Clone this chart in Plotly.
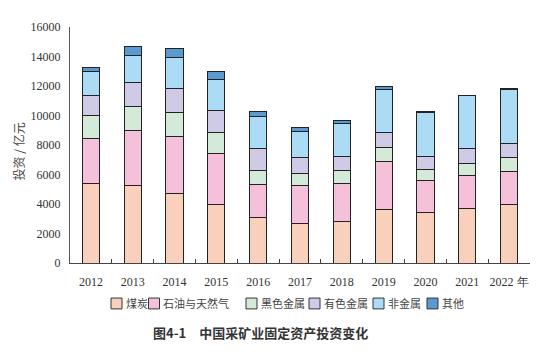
import plotly.graph_objects as go

years = ["2012", "2013", "2014", "2015", "2016", "2017", "2018", "2019", "2020", "2021", "2022"]
tick_labels = ["2012", "2013", "2014", "2015", "2016", "2017", "2018", "2019", "2020", "2021", "2022 年"]

series_names = ["煤炭", "石油与天然气", "黑色金属", "有色金属", "非金属", "其他"]
coal = [5375, 5285, 4705, 3969, 3055, 2676, 2832, 3635, 3434, 3680, 3947]
oil_gas = [3077, 3702, 3881, 3457, 2297, 2609, 2587, 3278, 2186, 2252, 2252]
ferrous = [1516, 1650, 1650, 1405, 937, 758, 847, 892, 736, 825, 982]
nonferrous = [1383, 1628, 1605, 1539, 1449, 1138, 982, 1026, 892, 1026, 936]
nonmetal = [1605, 1784, 2074, 2051, 2186, 1761, 2207, 2943, 2943, 3545, 3657]
other = [313, 602, 602, 558, 379, 268, 179, 179, 112, 45, 67]

colors = ["#F9D0BC", "#F5C0DA", "#D4EAD9", "#CFCAE5", "#ACDCF5", "#5A9AD0"]
values = [coal, oil_gas, ferrous, nonferrous, nonmetal, other]

SERIF = "'Liberation Serif', 'Times New Roman', serif"

# the page body has an 8px default margin; compensate for it
OFF = 8
W, H = 549 - OFF, 356 - OFF
L, R, T, B = 70 - OFF, 19, 24 - OFF, 93
PW, PH = W - L - R, H - T - B

def px(x):  # screen x -> paper
    return (x - OFF - L) / PW

def py(y):  # screen y -> paper
    return (H - B - (y - OFF)) / PH

fig = go.Figure()
for name, vals, col in zip(series_names, values, colors):
    fig.add_trace(go.Bar(
        x=years, y=vals, name=name,
        marker=dict(color=col, line=dict(color="#222222", width=1)),
        showlegend=False,
    ))

# custom legend (squares + text)
legend_sq_x = [111, 148.5, 246, 309, 373, 427]
shapes = []
annotations = []
for name, col, sx in zip(series_names, colors, legend_sq_x):
    shapes.append(dict(type="rect", xref="paper", yref="paper",
                       x0=px(sx), x1=px(sx + 11), y0=py(309.5), y1=py(298.5),
                       fillcolor=col, line=dict(color="#333333", width=1)))
    annotations.append(dict(xref="paper", yref="paper", x=px(sx + 12.5), y=py(304),
                            text=name, showarrow=False, xanchor="left", yanchor="middle",
                            font=dict(family="Noto Sans CJK SC", size=11, color="#444444")))

# y-axis title
annotations.append(dict(xref="paper", yref="paper", x=px(18), y=py(150),
                        text="投资 / 亿元", showarrow=False, textangle=-90,
                        xanchor="center", yanchor="middle",
                        font=dict(family="Noto Sans CJK SC", size=12, color="#444444")))
# caption
annotations.append(dict(xref="paper", yref="paper", x=px(260), y=py(333),
                        text="<b>图4-1　中国采矿业固定资产投资变化</b>", showarrow=False,
                        xanchor="center", yanchor="middle",
                        font=dict(family="Noto Sans CJK SC", size=13, color="#333333")))

fig.update_layout(
    barmode="stack",
    bargap=0.59,
    width=W, height=H,
    margin=dict(l=L, r=R, t=T, b=B),
    plot_bgcolor="white", paper_bgcolor="white",
    shapes=shapes, annotations=annotations,
    showlegend=False,
    font=dict(family=SERIF, size=11, color="#333333"),
)
fig.update_xaxes(
    tickmode="array", tickvals=years, ticktext=tick_labels, tickangle=0,
    showline=True, linecolor="#444444", linewidth=1,
    ticks="inside", tickson="boundaries", ticklen=4, tickcolor="#444444",
    showgrid=False, ticklabelstandoff=8,
    tickfont=dict(family=SERIF, size=12, color="#333333"),
)
fig.update_yaxes(
    range=[0, 16000], dtick=2000, showgrid=False, zeroline=False,
    showline=True, linecolor="#555555", linewidth=1, ticks="",
    tickformat="d", ticklabelstandoff=6,
    tickfont=dict(family=SERIF, size=12, color="#333333"),
)

fig.write_html("out.html")
